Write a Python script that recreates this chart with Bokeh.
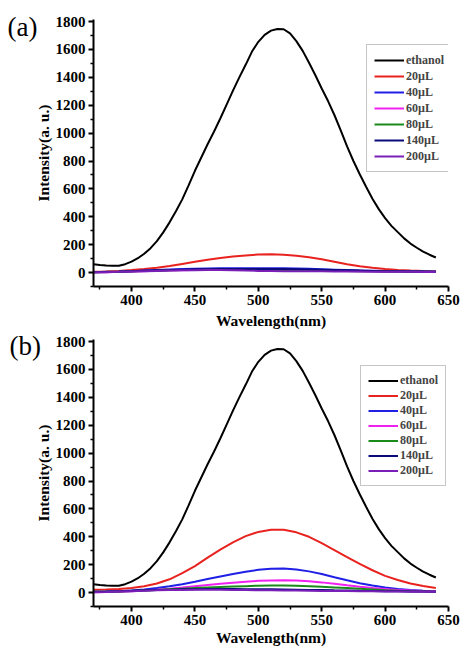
from bokeh.plotting import figure
from bokeh.models import Range1d, FixedTicker, Label, Legend
from bokeh.layouts import column
from bokeh.embed import file_html
from bokeh.resources import INLINE

# ---------------- data ----------------
wl5 = list(range(370, 645, 5))
wl10 = list(range(370, 650, 10))

ethanol = [60, 55, 51, 48, 49, 60, 78, 103, 135, 175, 225, 288, 360, 440, 525, 625,
           730, 825, 920, 1010, 1105, 1205, 1305, 1400, 1490, 1585, 1655, 1705, 1735,
           1747, 1745, 1715, 1660, 1590, 1505, 1415, 1320, 1230, 1130, 1020, 905, 800,
           705, 615, 530, 455, 390, 335, 290, 245, 208, 178, 150, 128, 108]

# panel (a)
a_20 = [5, 8, 12, 18, 25, 35, 47, 62, 77, 92, 104, 115, 123, 129, 131, 128, 120, 109,
        96, 78, 60, 45, 34, 25, 19, 15, 12, 10]
a_40 = [2, 4, 6, 10, 14, 18, 22, 25, 27, 29, 30, 30, 31, 31, 31, 30, 29, 27, 24, 21,
        18, 15, 13, 11, 10, 9, 8, 8]
a_60 = [2, 3, 5, 8, 10, 13, 15, 17, 19, 20, 21, 21, 21, 21, 20, 20, 19, 17, 15, 14,
        12, 10, 9, 8, 7, 6, 5, 5]
a_80 = [3, 4, 6, 9, 11, 13, 16, 18, 19, 20, 21, 21, 21, 20, 20, 19, 18, 17, 15, 13,
        12, 10, 9, 8, 7, 6, 6, 5]
a_140 = [3, 5, 7, 10, 13, 16, 18, 21, 23, 24, 25, 26, 26, 26, 26, 25, 24, 22, 20, 18,
         16, 14, 12, 10, 9, 8, 7, 6]
a_200 = [2, 3, 5, 8, 10, 12, 14, 16, 17, 18, 19, 17, 14, 12, 11, 10, 10, 9, 9, 8, 8,
         7, 6, 6, 5, 5, 4, 4]

# panel (b)
b_20 = [20, 22, 25, 32, 45, 65, 95, 140, 190, 250, 308, 360, 405, 435, 450, 450, 432,
        400, 355, 305, 255, 205, 160, 120, 90, 65, 47, 33]
b_40 = [5, 7, 10, 15, 22, 32, 45, 60, 78, 97, 115, 133, 150, 163, 170, 172, 166, 152,
        133, 110, 88, 67, 50, 36, 26, 18, 13, 10]
b_60 = [3, 4, 6, 10, 15, 21, 28, 36, 45, 54, 63, 71, 78, 84, 87, 88, 86, 81, 73, 63,
        52, 42, 33, 25, 19, 14, 11, 8]
b_80 = [5, 6, 8, 11, 15, 19, 24, 28, 32, 36, 40, 43, 46, 49, 50, 50, 49, 46, 42, 37,
        32, 27, 22, 17, 13, 10, 8, 6]
b_140 = [5, 7, 10, 13, 16, 19, 21, 23, 24, 25, 25, 25, 24, 24, 23, 22, 21, 19, 18, 16,
         15, 13, 12, 10, 9, 8, 7, 6]
b_200 = [2, 4, 7, 10, 13, 16, 18, 19, 20, 20, 20, 19, 18, 17, 16, 15, 14, 13, 12, 12,
         11, 10, 9, 8, 7, 6, 6, 5]

labels = ["ethanol", "20µL", "40µL", "60µL", "80µL", "140µL", "200µL"]
colors = ["#000000", "#e8231f", "#1f1fe6", "#f020f0", "#1a8a1a", "#0a0a7a", "#7a1fb8"]

x_ticks = [400, 450, 500, 550, 600, 650]
x_minor = [375, 425, 475, 525, 575, 625]
y_ticks = [0, 200, 400, 600, 800, 1000, 1200, 1400, 1600, 1800]
y_minor = [-100, 100, 300, 500, 700, 900, 1100, 1300, 1500, 1700]

FONT = "Liberation Serif"


def make_panel(tag, series, height, top, legend_loc, row_h, tag_x, tag_y, xlabel_standoff):
    p = figure(width=461, height=height, output_backend="svg", toolbar_location=None,
               x_range=Range1d(370, 650), y_range=Range1d(-100, 1815),
               min_border_left=90, min_border_right=13, min_border_top=top,
               min_border_bottom=0)
    p.outline_line_color = None
    p.xgrid.visible = False
    p.ygrid.visible = False
    p.background_fill_color = "white"

    items = []
    for i, (lab, col) in enumerate(zip(labels, colors)):
        xs = wl5 if i == 0 else wl10
        r = p.line(xs, series[i], line_color=col, line_width=2)
        items.append((lab, [r]))

    for ax in (p.xaxis[0], p.yaxis[0]):
        ax.axis_line_width = 2
        ax.axis_line_color = "black"
        ax.major_tick_line_width = 2
        ax.minor_tick_line_width = 1.5
        ax.major_tick_out = 5
        ax.major_tick_in = 0
        ax.minor_tick_out = 3
        ax.minor_tick_in = 0
        ax.major_label_text_font = FONT
        ax.major_label_text_font_style = "bold"
        ax.major_label_text_font_size = "15px"
        ax.major_label_text_color = "black"
        ax.axis_label_text_font = FONT
        ax.axis_label_text_font_style = "bold"
        ax.axis_label_text_font_size = "15.5px"
        ax.axis_label_text_color = "black"
        ax.major_label_standoff = 3
        ax.axis_label_standoff = 1
    p.xaxis[0].axis_label_standoff = xlabel_standoff

    p.xaxis[0].ticker = FixedTicker(ticks=x_ticks, minor_ticks=x_minor)
    p.yaxis[0].ticker = FixedTicker(ticks=y_ticks, minor_ticks=y_minor)
    p.xaxis[0].axis_label = "Wavelength(nm)"
    p.yaxis[0].axis_label = "Intensity(a. u.)"

    leg = Legend(items=items, location=legend_loc)
    leg.label_text_font = FONT
    leg.label_text_font_style = "bold"
    leg.label_text_font_size = "12px"
    leg.label_height = row_h
    leg.glyph_height = row_h
    leg.glyph_width = 30
    leg.label_standoff = 2
    leg.spacing = 0
    leg.padding = 7
    leg.margin = 0
    leg.border_line_color = "#8c8c8c"
    leg.border_line_width = 1
    leg.background_fill_alpha = 1
    p.add_layout(leg, "center")

    p.add_layout(Label(x=tag_x, y=tag_y, x_units="screen", y_units="screen", text=tag,
                       text_font=FONT, text_font_size="27px", text_baseline="middle",
                       text_align="left", text_color="black"), "left")
    return p


pa = make_panel("(a)", [ethanol, a_20, a_40, a_60, a_80, a_140, a_200],
                331, 19, (273, 114), 16, 6, 260, 4)
pb = make_panel("(b)", [ethanol, b_20, b_40, b_60, b_80, b_140, b_200],
                317, 8, (267, 120), 15, 9, 261, 1)

layout = column(pa, pb)
open("out.html", "w").write(file_html(layout, INLINE))
